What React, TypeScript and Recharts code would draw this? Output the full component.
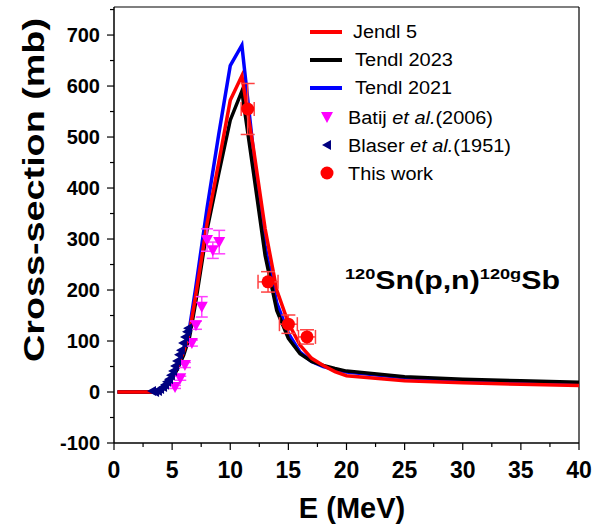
import {
  ComposedChart,
  ErrorBar,
  Line,
  ReferenceLine,
  Scatter,
  XAxis,
  YAxis,
} from 'recharts'

// evaluated excitation functions, shared energy grid (MeV)
const energyGrid = [0.3, 3.3, 4, 4.5, 5, 5.5, 6, 6.5, 7, 8, 9, 10, 11, 12, 13, 14, 15, 16, 17, 18, 19, 20, 25, 30, 35, 40]
const jendl5 = [0, 0, 3, 12, 30, 52, 80, 118, 185, 330, 449, 572, 620, 477, 320, 200, 135, 92, 66, 52, 40, 32, 22, 18, 15, 13]
const tendl2023 = [0, 0, 2, 10, 26, 47, 73, 108, 172, 318, 427, 533, 590, 430, 268, 160, 105, 75, 60, 52, 46, 41, 30, 25, 22, 19]
const tendl2021 = [0, 0, 3, 13, 32, 56, 86, 126, 200, 360, 504, 640, 680, 470, 285, 175, 115, 78, 60, 50, 44, 39, 28, 23, 20, 17]

// Batij et al. (2006)
const batijE = [5.25, 5.7, 6.1, 6.7, 7.05, 7.55, 8.0, 8.5, 9.05]
const batijXs = [10, 27, 53, 96, 131, 167, 298, 278, 294]
const batijErr = [3, 4, 5, 6, 8, 20, 22, 16, 23]

// Blaser et al. (1951)
const blaserE = [3.27, 3.53, 3.78, 3.96, 4.22, 4.39, 4.56, 4.73, 4.9, 5.08, 5.25, 5.42, 5.59, 5.76, 5.94, 6.11, 6.28, 6.37]
const blaserXs = [2, 0, 2, 6, 10, 14, 20, 25, 33, 41, 51, 61, 73, 82, 96, 108, 118, 125]

// this work
const thisWorkE = [11.5, 13.25, 15.0, 16.6]
const thisWorkXs = [555, 216, 133, 108]
const thisWorkXsErr = [50, 20, 18, 14]
const thisWorkEErr = [0.56, 0.86, 0.77, 0.73]

const yTicks = [-100, -50, 0, 50, 100, 150, 200, 250, 300, 350, 400, 450, 500, 550, 600, 650, 700, 750]
const xTicks = [0, 2.5, 5, 7.5, 10, 12.5, 15, 17.5, 20, 22.5, 25, 27.5, 30, 32.5, 35, 37.5, 40]

const FONT = '"Liberation Sans", Arial, sans-serif'

const toRows = (xs: number[], ys: number[]) => xs.map((x, i) => ({ x, y: ys[i] }))

const jendlRows = toRows(energyGrid, jendl5)
const tendl23Rows = toRows(energyGrid, tendl2023)
const tendl21Rows = toRows(energyGrid, tendl2021)
const batijRows = batijE.map((x, i) => ({ x, y: batijXs[i], ey: batijErr[i] }))
const blaserRows = toRows(blaserE, blaserXs)
const thisWorkRows = thisWorkE.map((x, i) => ({ x, y: thisWorkXs[i], ey: thisWorkXsErr[i], ex: thisWorkEErr[i] }))

function YTick({ x, y, payload }: any) {
  const major = payload.value % 100 === 0
  return (
    <g>
      <line x1={x} x2={x - (major ? 7 : 4)} y1={y} y2={y} stroke="#000" strokeWidth={1.2} />
      {major && (
        <text x={x - 14} y={y} dy="0.36em" textAnchor="end" fontFamily={FONT} fontWeight="bold" fontSize={20} fill="#000">
          {payload.value}
        </text>
      )}
    </g>
  )
}

function XTick({ x, y, payload }: any) {
  const major = payload.value % 5 === 0
  return (
    <g>
      <line x1={x} x2={x} y1={y} y2={y + (major ? 7 : 4)} stroke="#000" strokeWidth={1.2} />
      {major && (
        <text x={x} y={y + 35} textAnchor="middle" fontFamily={FONT} fontWeight="bold" fontSize={23} fill="#000">
          {payload.value}
        </text>
      )}
    </g>
  )
}

const downTriangle = ({ cx, cy }: any) => (
  <polygon points={`${cx - 6},${cy - 5} ${cx + 6},${cy - 5} ${cx},${cy + 6}`} fill="#ff00ff" />
)
const leftTriangle = ({ cx, cy }: any) => (
  <polygon points={`${cx - 5},${cy} ${cx + 4},${cy - 5} ${cx + 4},${cy + 5}`} fill="#000080" />
)
const dot = ({ cx, cy }: any) => <circle cx={cx} cy={cy} r={6.5} fill="#ff0000" />

function Overlay() {
  const legendLines = [
    { label: 'Jendl 5', color: '#ff0000', y: 32, len: 64, tx: 353 },
    { label: 'Tendl 2023', color: '#000000', y: 60, len: 98, tx: 355 },
    { label: 'Tendl 2021', color: '#0000ff', y: 88, len: 97, tx: 355 },
  ]
  const t = { fontFamily: FONT, fontSize: 18, fill: '#000' }
  return (
    <svg width={598} height={526} style={{ position: 'absolute', left: 0, top: 0, pointerEvents: 'none' }}>
      {legendLines.map((l) => (
        <g key={l.label}>
          <line x1={310} x2={342} y1={l.y} y2={l.y} stroke={l.color} strokeWidth={4} />
          <text x={l.tx} y={l.y + 6} {...t} textLength={l.len} lengthAdjust="spacingAndGlyphs">
            {l.label}
          </text>
        </g>
      ))}
      {downTriangle({ cx: 327, cy: 117 })}
      <text x={348} y={124} {...t} textLength={145} lengthAdjust="spacingAndGlyphs">
        Batij <tspan fontStyle="italic">et al.</tspan>(2006)
      </text>
      {leftTriangle({ cx: 327, cy: 145 })}
      <text x={348} y={152} {...t} textLength={163} lengthAdjust="spacingAndGlyphs">
        Blaser <tspan fontStyle="italic">et al.</tspan>(1951)
      </text>
      {dot({ cx: 327, cy: 173 })}
      <text x={348} y={180} {...t} textLength={85} lengthAdjust="spacingAndGlyphs">
        This work
      </text>

      <text x={345} y={289} fontFamily={FONT} fontWeight="bold" fill="#000" textLength={215} lengthAdjust="spacingAndGlyphs">
        <tspan fontSize={15} dy={-10}>120</tspan>
        <tspan fontSize={25} dy={10}>Sn(p,n)</tspan>
        <tspan fontSize={15} dy={-10}>120g</tspan>
        <tspan fontSize={25} dy={10}>Sb</tspan>
      </text>

      <text x={352} y={518} textAnchor="middle" fontFamily={FONT} fontWeight="bold" fontSize={29} fill="#000">
        E (MeV)
      </text>
      <text
        transform="translate(44,190) rotate(-90)"
        textAnchor="middle"
        fontFamily={FONT}
        fontWeight="bold"
        fontSize={30}
        fill="#000"
        textLength={344}
        lengthAdjust="spacingAndGlyphs"
      >
        Cross-section (mb)
      </text>
    </svg>
  )
}

export default function App() {
  return (
    <div style={{ position: 'absolute', left: 0, top: 0, width: 598, height: 526, background: '#fff' }}>
      <ComposedChart width={598} height={526} margin={{ top: 7, right: 19, bottom: 0, left: 0 }}>
        <XAxis
          type="number"
          dataKey="x"
          domain={[0, 40]}
          ticks={xTicks}
          interval={0}
          tickSize={0}
          tickMargin={0}
          tickLine={false}
          tick={<XTick />}
          height={83}
          axisLine={{ stroke: '#000', strokeWidth: 1.5 }}
          allowDataOverflow
        />
        <YAxis
          type="number"
          dataKey="y"
          domain={[-100, 755]}
          ticks={yTicks}
          interval={0}
          tickSize={0}
          tickMargin={0}
          tickLine={false}
          tick={<YTick />}
          width={114}
          axisLine={{ stroke: '#000', strokeWidth: 1.5 }}
          allowDataOverflow
        />
        <ReferenceLine y={755} stroke="#000" strokeWidth={1.2} ifOverflow="visible" />
        <ReferenceLine x={40} stroke="#000" strokeWidth={1.2} ifOverflow="visible" />
        <Line data={tendl21Rows} dataKey="y" type="linear" stroke="#0000ff" strokeWidth={3.5} dot={false} isAnimationActive={false} />
        <Line data={tendl23Rows} dataKey="y" type="linear" stroke="#000000" strokeWidth={3.5} dot={false} isAnimationActive={false} />
        <Line data={jendlRows} dataKey="y" type="linear" stroke="#ff0000" strokeWidth={3.5} dot={false} isAnimationActive={false} />
        <Scatter data={batijRows} dataKey="y" shape={downTriangle} isAnimationActive={false}>
          <ErrorBar dataKey="ey" direction="y" width={6} stroke="#ff40ff" strokeWidth={1.5} />
        </Scatter>
        <Scatter data={blaserRows} dataKey="y" shape={leftTriangle} isAnimationActive={false} />
        <Scatter data={thisWorkRows} dataKey="y" shape={dot} isAnimationActive={false}>
          <ErrorBar dataKey="ey" direction="y" width={7} stroke="#ff4040" strokeWidth={1.5} />
          <ErrorBar dataKey="ex" direction="x" width={7} stroke="#ff4040" strokeWidth={1.5} />
        </Scatter>
      </ComposedChart>
      <Overlay />
    </div>
  )
}
